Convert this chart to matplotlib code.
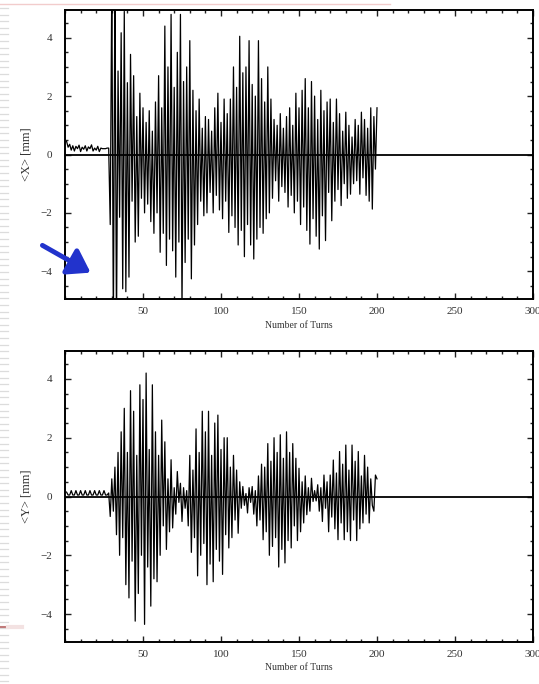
import numpy as np
import matplotlib
matplotlib.use("Agg")
import matplotlib.pyplot as plt
from matplotlib.lines import Line2D
from matplotlib.patches import FancyArrowPatch
from matplotlib.ticker import MultipleLocator

plt.rcParams["font.family"] = ["Liberation Serif", "DejaVu Serif"]

turns = np.arange(1, 201)

# horizontal beam centroid per turn [mm]
x_mean = [
    0.45, 0.25, 0.35, 0.15, 0.30, 0.12, 0.28, 0.20, 0.32, 0.10,
    0.25, 0.18, 0.30, 0.12, 0.26, 0.20, 0.33, 0.12, 0.22, 0.15,
    0.28, 0.10, 0.22, 0.20, 0.20, 0.20, 0.22, 0.22, -2.4, 6.0,
    -6.0, 6.0, -6.0, 2.86, -2.15, 4.17, -4.6, 4.9, -4.7, 2.46,
    -4.2, 3.43, -1.6, 2.7, -3.0, 1.3, -2.8, 2.1, -1.5, 1.6,
    -2.0, 1.1, -1.7, 1.5, -2.3, 0.8, -2.7, 1.8, -2.0, 2.7,
    -3.35, 1.6, -2.7, 4.4, -3.8, 3.0, -2.9, 4.8, -3.3, 2.3,
    -4.2, 3.5, -3.0, 4.8, -5.3, 2.5, -3.7, 3.0, -2.9, 3.9,
    -4.26, 2.2, -3.1, 1.5, -2.4, 1.9, -1.6, 0.9, -2.1, 1.3,
    -2.0, 1.2, -1.3, 0.8, -2.0, 1.6, -1.4, 2.1, -1.9, 1.1,
    -2.2, 1.9, -1.6, 1.4, -2.67, 1.9, -2.1, 3.0, -2.5, 2.3,
    -3.1, 4.05, -2.6, 2.8, -3.5, 3.0, -2.4, 3.9, -3.1, 2.4,
    -3.58, 2.0, -2.9, 3.9, -2.5, 2.6, -2.7, 1.8, -2.2, 3.0,
    -2.0, 1.9, -1.5, 1.2, -0.9, 1.0, -1.6, 1.4, -1.1, 0.9,
    -1.3, 1.3, -1.8, 1.6, -1.4, 1.0, -2.0, 2.1, -1.6, 1.6,
    -2.4, 2.2, -1.8, 2.6, -2.6, 1.6, -3.07, 2.5, -2.2, 2.0,
    -2.8, 1.2, -3.24, 2.2, -2.1, 1.5, -2.95, 1.8, -1.3, 1.9,
    -2.27, 1.1, -1.6, 1.9, -1.2, 1.4, -1.75, 0.8, -1.0, 1.45,
    -1.5, 1.0, -1.36, 0.6, -1.0, 1.2, -0.9, 1.0, -1.36, 1.45,
    -0.8, 1.2, -1.4, 0.9, -1.6, 1.6, -1.87, 1.3, -0.5, 1.6,
]

# vertical beam centroid per turn [mm]
y_mean = [
    0.15, 0.05, 0.05, 0.20, 0.05, 0.05, 0.20, 0.05, 0.05, 0.20,
    0.05, 0.05, 0.20, 0.05, 0.05, 0.20, 0.05, 0.05, 0.20, 0.05,
    0.05, 0.20, 0.05, 0.05, 0.20, 0.05, 0.05, 0.12, -0.68, 0.6,
    -0.5, 1.0, -1.3, 1.5, -2.0, 2.2, -1.4, 3.0, -3.0, 1.5,
    -3.45, 3.6, -2.2, 2.9, -4.24, 1.4, -3.3, 3.8, -2.0, 3.3,
    -4.35, 4.2, -2.4, 1.6, -3.73, 3.8, -2.8, 2.2, -2.9, 1.4,
    -2.0, 2.6, -1.0, 1.86, -1.8, 0.6, -1.2, 1.25, -1.07, 0.3,
    -0.6, 0.85, -0.2, 0.45, -0.85, 0.3, -0.4, 0.2, -1.0, 1.4,
    -1.9, 0.9, -1.4, 2.3, -2.7, 1.5, -2.0, 2.9, -1.6, 2.2,
    -3.0, 2.9, -2.3, 1.4, -2.9, 2.5, -1.8, 2.77, -2.2, 1.6,
    -2.65, 2.0, -1.3, 2.0, -1.75, 1.0, -1.4, 1.4, -0.8, 0.9,
    -1.25, 0.5, -0.4, 0.34, -0.3, 0.1, -0.56, 0.3, -0.2, 0.34,
    -0.6, 0.2, -1.0, 0.7, -0.8, 1.1, -1.47, 1.0, -1.2, 1.8,
    -2.0, 1.2, -1.7, 2.0, -1.4, 1.5, -2.4, 2.1, -1.8, 1.3,
    -2.26, 2.2, -1.5, 1.5, -1.75, 1.8, -1.0, 1.3, -1.5, 0.96,
    -1.2, 0.5, -0.9, 0.7, -0.62, 0.3, -0.5, 0.62, -0.17, 0.2,
    -0.15, 0.4, -0.5, 0.3, -0.85, 0.73, -0.4, 0.5, -1.2, 0.73,
    -0.7, 1.24, -1.1, 0.8, -1.47, 1.53, -0.9, 1.1, -1.47, 1.75,
    -1.2, 0.9, -1.5, 1.75, -0.8, 1.2, -1.5, 1.53, -1.1, 0.7,
    -0.9, 1.4, -0.6, 1.0, -0.9, 0.6, -0.3, -0.5, 0.73, 0.6,
]

panels = [("<X> [mm]", x_mean), ("<Y> [mm]", y_mean)]

W, H = 539, 684
fig = plt.figure(figsize=(W / 100, H / 100), dpi=100)
fig.patch.set_facecolor("white")

# axes boxes in pixels: left, top, right, bottom
boxes = [(65, 10, 533, 299), (65, 351, 533, 642)]

for (ylab, vals), (l, t, r, b) in zip(panels, boxes):
    ax = fig.add_axes([l / W, 1 - b / H, (r - l) / W, (b - t) / H])
    ax.plot(turns, vals, color="black", lw=0.9)
    ax.axhline(0, color="black", lw=1.3)
    ax.set_xlim(0, 300)
    ax.set_ylim(-4.95, 4.95)
    ax.xaxis.set_major_locator(MultipleLocator(50))
    ax.xaxis.set_minor_locator(MultipleLocator(10))
    ax.yaxis.set_major_locator(MultipleLocator(2))
    ax.yaxis.set_minor_locator(MultipleLocator(0.5))
    ax.set_xticks([50, 100, 150, 200, 250, 300])
    ax.tick_params(which="both", direction="in", top=True, right=True,
                   width=1.0, color="#222222")
    ax.tick_params(which="major", length=4)
    ax.tick_params(which="minor", length=2)
    ax.tick_params(axis="x", labelsize=8, pad=6, labelcolor="#333333")
    ax.tick_params(axis="y", labelsize=8, pad=9, labelcolor="#333333")
    for s in ax.spines.values():
        s.set_linewidth(1.4)
    ax.set_xlabel("Number of Turns", fontsize=7, labelpad=3, color="#333333")
    ax.set_ylabel(ylab, fontsize=9, labelpad=6, color="#333333")

# arrow pointing at the lower left of the first panel
fig.add_artist(FancyArrowPatch(
    (40 / W, 1 - 244 / H), (93 / W, 1 - 274 / H),
    transform=fig.transFigure, arrowstyle="-|>,head_length=6,head_width=4",
    color="#2233cc", lw=3.5, mutation_scale=2.2))

# slide decoration along the left edge and top
for py in np.arange(8, 684, 6.6):
    fig.add_artist(Line2D([0, 8 / W], [1 - py / H] * 2, color="#dcdcdc", lw=0.9))
fig.add_artist(Line2D([0, 8 / W], [1 - 627 / H] * 2, color="#c07a7a", lw=1.5))
fig.add_artist(Line2D([8 / W, 22 / W], [1 - 627 / H] * 2, color="#f3e2e2", lw=3))
fig.add_artist(Line2D([0, 390 / W], [1 - 4 / H] * 2, color="#f2cccc", lw=1.0))

fig.savefig("out.png", dpi=100)
